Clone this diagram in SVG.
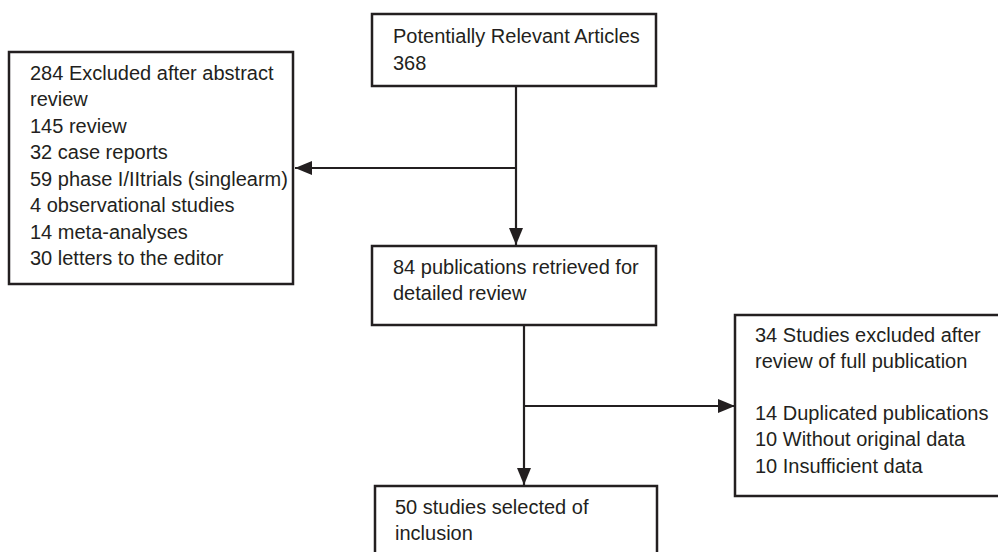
<svg xmlns="http://www.w3.org/2000/svg" width="998" height="552" viewBox="0 0 998 552">
<defs>
<style>
.box{fill:#fff;stroke:#231f20;stroke-width:2.5}
.t{font-family:"Liberation Sans",Arial,sans-serif;font-size:20px;fill:#231f20}
.ln{fill:none;stroke:#231f20;stroke-width:2.2}
</style>
<marker id="ah" markerUnits="userSpaceOnUse" markerWidth="18" markerHeight="14" refX="17" refY="7" orient="auto">
<path d="M0,0 L17,7 L0,14 Z" fill="#231f20"/>
</marker>
</defs>
<rect width="998" height="552" fill="#fff"/>
<g id="connectors">
<line class="ln" x1="516" y1="86" x2="516" y2="245" marker-end="url(#ah)"/>
<line class="ln" x1="516" y1="168" x2="295" y2="168" marker-end="url(#ah)"/>
<line class="ln" x1="524" y1="325" x2="524" y2="485" marker-end="url(#ah)"/>
<line class="ln" x1="524" y1="406" x2="735" y2="406" marker-end="url(#ah)"/>
</g>
<g id="n_potential">
<rect class="box" x="372" y="14" width="284" height="72"/>
<text class="t" x="393" y="43">Potentially Relevant Articles</text>
<text class="t" x="393" y="70">368</text>
</g>
<g id="n_excluded_abstract">
<rect class="box" x="9" y="52" width="284" height="232"/>
<text class="t" x="30" y="80">284 Excluded after abstract</text>
<text class="t" x="30" y="106">review</text>
<text class="t" x="30" y="133">145 review</text>
<text class="t" x="30" y="159">32 case reports</text>
<text class="t" x="30" y="186">59 phase I/IItrials (singlearm)</text>
<text class="t" x="30" y="212">4 observational studies</text>
<text class="t" x="30" y="239">14 meta-analyses</text>
<text class="t" x="30" y="265">30 letters to the editor</text>
</g>
<g id="n_retrieved">
<rect class="box" x="372" y="246" width="284" height="79"/>
<text class="t" x="393" y="274">84 publications retrieved for</text>
<text class="t" x="393" y="300">detailed review</text>
</g>
<g id="n_excluded_full">
<rect class="box" x="735" y="315" width="270" height="181"/>
<text class="t" x="755" y="342">34 Studies excluded after</text>
<text class="t" x="755" y="368">review of full publication</text>
<text class="t" x="755" y="420">14 Duplicated publications</text>
<text class="t" x="755" y="446">10 Without original data</text>
<text class="t" x="755" y="473">10 Insufficient data</text>
</g>
<g id="n_selected">
<rect class="box" x="375" y="486" width="282" height="80"/>
<text class="t" x="395" y="514">50 studies selected of</text>
<text class="t" x="395" y="540">inclusion</text>
</g>
</svg>
